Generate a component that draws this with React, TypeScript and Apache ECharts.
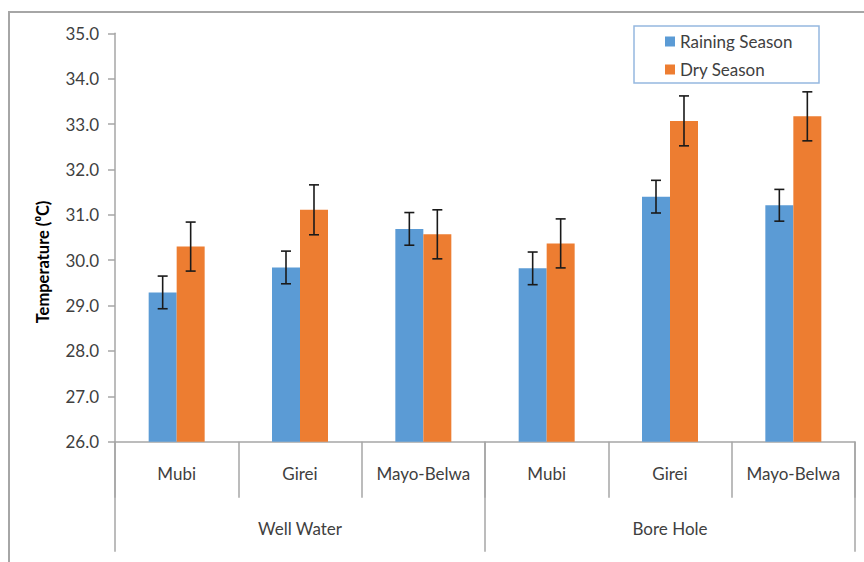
import React, { useEffect, useRef } from 'react';
import * as echarts from 'echarts';

const categories = ['Mubi', 'Girei', 'Mayo-Belwa', 'Mubi', 'Girei', 'Mayo-Belwa'];
const groups = ['Well Water', 'Bore Hole'];
const rainingSeason = [29.29, 29.84, 30.69, 29.82, 31.4, 31.21];
const drySeason = [30.3, 31.11, 30.57, 30.37, 33.07, 33.17];
const rainingErr = [0.36, 0.36, 0.36, 0.36, 0.36, 0.35];
const dryErr = [0.54, 0.55, 0.54, 0.54, 0.55, 0.54];
const seriesNames = ['Raining Season', 'Dry Season'];
const yMin = 26;
const yMax = 35;
const yInterval = 1;

const FONT = 'Lato';
const BAR_FRAC = 0.227;

export default function App() {
  const ref = useRef<HTMLDivElement>(null);

  useEffect(() => {
    if (!ref.current) return;
    const chart = echarts.init(ref.current, null, { renderer: 'svg' });

    const errSeries = (name: string, values: number[], errs: number[], sign: number) => ({
      type: 'custom',
      name,
      xAxisIndex: 0,
      yAxisIndex: 0,
      z: 10,
      silent: true,
      data: values.map((v, i) => [i, v, errs[i]]),
      renderItem: (params: any, api: any) => {
        const i = api.value(0);
        const v = api.value(1);
        const e = api.value(2);
        const band = api.size([1, 0])[0];
        const off = (sign * band * BAR_FRAC) / 2;
        const top = api.coord([i, v + e]);
        const bot = api.coord([i, v - e]);
        const x = top[0] + off;
        const cap = 5;
        const style = { stroke: '#1a1a1a', lineWidth: 1.6 };
        return {
          type: 'group',
          children: [
            { type: 'line', shape: { x1: x, y1: top[1], x2: x, y2: bot[1] }, style },
            { type: 'line', shape: { x1: x - cap, y1: top[1], x2: x + cap, y2: top[1] }, style },
            { type: 'line', shape: { x1: x - cap, y1: bot[1], x2: x + cap, y2: bot[1] }, style },
          ],
        };
      },
    });

    const option: any = {
      animation: false,
      backgroundColor: '#ffffff',
      textStyle: { fontFamily: FONT },
      grid: { left: 115, right: 9, top: 33.3, bottom: 120.3, containLabel: false },
      legend: {
        data: seriesNames,
        orient: 'vertical',
        left: 660,
        top: 28,
        itemWidth: 10,
        itemHeight: 10,
        itemGap: 11,
        icon: 'rect',
        textStyle: { fontFamily: FONT, fontSize: 17, color: '#404040' },
      },
      xAxis: [
        {
          type: 'category',
          data: categories,
          position: 'bottom',
          axisLine: { show: true, lineStyle: { color: '#a6a6a6', width: 1.5 } },
          axisTick: { show: true, interval: 0, length: 56, lineStyle: { color: '#a6a6a6', width: 1.5 } },
          axisLabel: { interval: 0, margin: 23, fontSize: 17, color: '#404040', fontFamily: FONT },
        },
        {
          type: 'category',
          data: groups,
          position: 'bottom',
          offset: 0,
          axisLine: { show: false },
          axisTick: { show: true, interval: 0, length: 110, lineStyle: { color: '#a6a6a6', width: 1.5 } },
          axisLabel: { interval: 0, margin: 78, fontSize: 17, color: '#404040', fontFamily: FONT },
        },
      ],
      yAxis: {
        type: 'value',
        min: yMin,
        max: yMax,
        interval: yInterval,
        axisLine: { show: true, lineStyle: { color: '#a6a6a6', width: 1.5 } },
        axisTick: { show: true, length: 7, lineStyle: { color: '#a6a6a6', width: 1.5 } },
        splitLine: { show: false },
        axisLabel: {
          margin: 16,
          fontSize: 17,
          color: '#404040',
          fontFamily: FONT,
          formatter: (v: number) => v.toFixed(1),
        },
      },
      graphic: [
        {
          type: 'rect',
          shape: { x: 9, y: 12, width: 900, height: 600 },
          style: { fill: 'none', stroke: '#a6a6a6', lineWidth: 2 },
          silent: true,
        },
        {
          type: 'rect',
          shape: { x: 634, y: 26, width: 185, height: 57 },
          style: { fill: 'none', stroke: '#95b8e0', lineWidth: 1.5 },
          silent: true,
        },
        {
          type: 'text',
          x: 43,
          y: 262,
          rotation: Math.PI / 2,
          style: {
            text: 'Temperature (⁰C)',
            fontFamily: FONT,
            fontWeight: 'bold',
            fontSize: 16.5,
            fill: '#000000',
            align: 'center',
            verticalAlign: 'middle',
          },
          silent: true,
        },
      ],
      series: [
        {
          type: 'bar',
          name: seriesNames[0],
          data: rainingSeason,
          barWidth: '22.7%',
          barGap: '0%',
          itemStyle: { color: '#5b9bd5' },
        },
        {
          type: 'bar',
          name: seriesNames[1],
          data: drySeason,
          barWidth: '22.7%',
          barGap: '0%',
          itemStyle: { color: '#ed7d31' },
        },
        errSeries('rainErr', rainingSeason, rainingErr, -1),
        errSeries('dryErr', drySeason, dryErr, 1),
      ],
    };

    chart.setOption(option);
    return () => chart.dispose();
  }, []);

  return (
    <div
      ref={ref}
      style={{ position: 'absolute', left: 0, top: 0, width: 864, height: 562 }}
    />
  );
}
